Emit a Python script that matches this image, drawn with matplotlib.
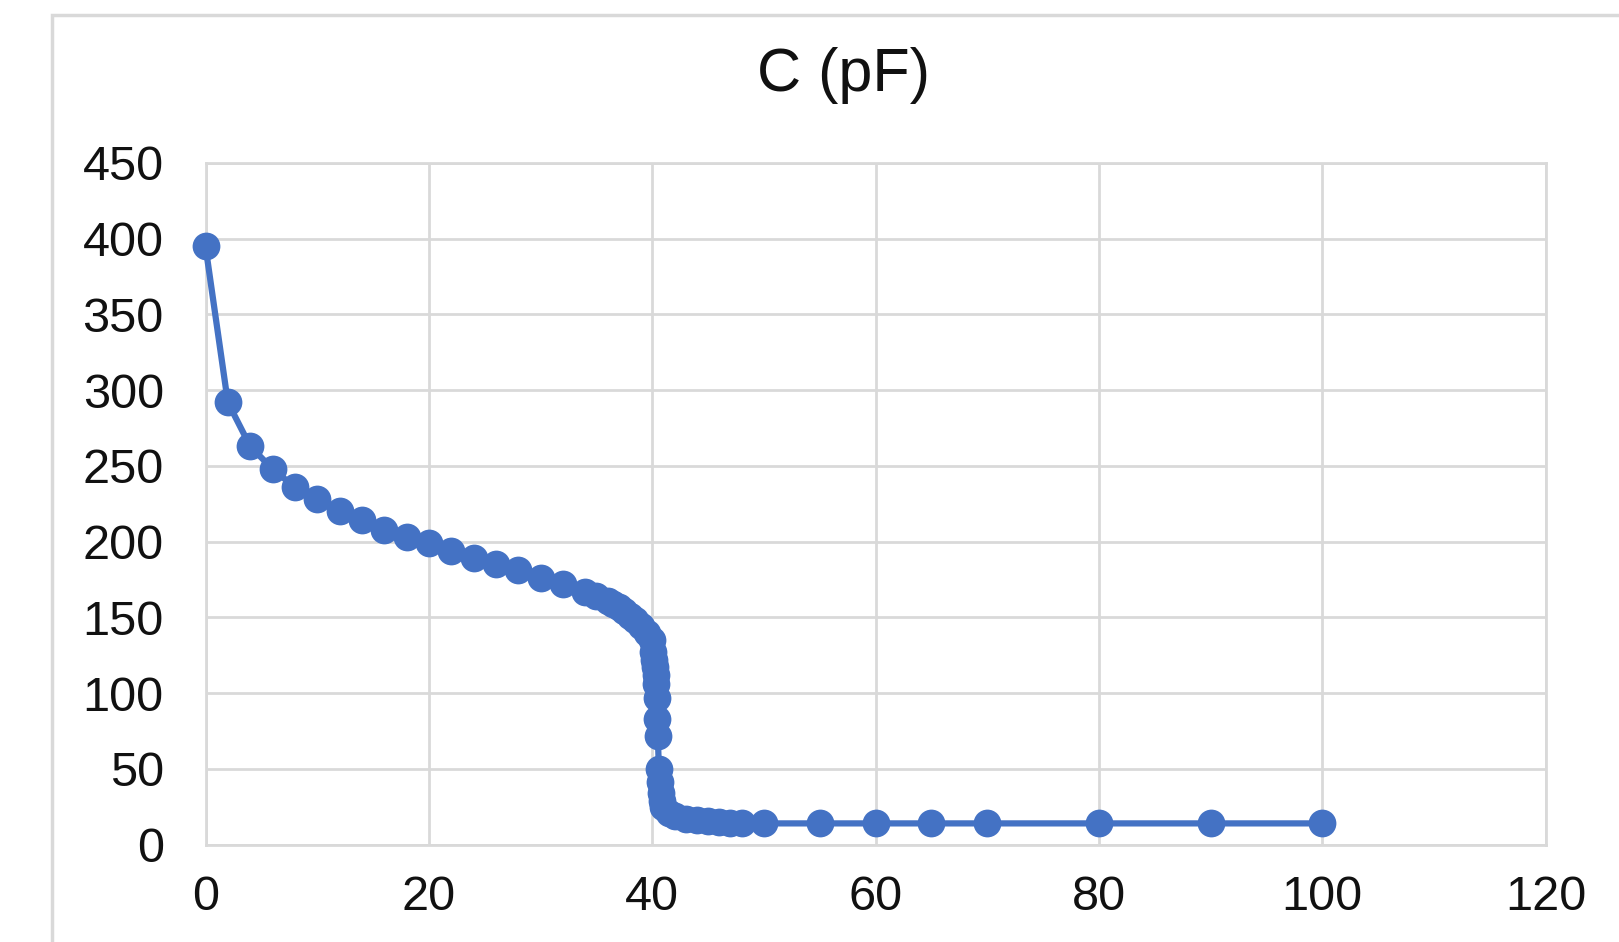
import matplotlib
matplotlib.use("Agg")
import matplotlib.pyplot as plt
from matplotlib.patches import Rectangle

# Capacitance readings
x_vals = [0, 2, 4, 6, 8, 10, 12, 14, 16, 18, 20, 22, 24, 26, 28, 30, 32, 34,
          35, 36, 36.5, 37, 37.5, 38, 38.5, 39, 39.5, 40,
          40.1, 40.2, 40.25, 40.3, 40.35, 40.4, 40.45, 40.5,
          40.6, 40.7, 40.8, 40.9, 41, 41.5, 42, 43,
          44, 45, 46, 47, 48, 50, 55, 60, 65, 70, 80, 90, 100]
c_pf = [395, 292, 263, 248, 236, 228, 220, 214, 208, 203, 199, 194, 189, 185, 181, 176, 172, 167,
        164, 161, 159, 157, 154, 151, 148, 144, 140, 135,
        127, 122, 117, 112, 106, 97, 83, 72,
        50, 41, 34, 29, 25, 21, 19, 17,
        16, 15.5, 15, 14.5, 14.5, 14, 14, 14, 14, 14, 14, 14, 14]

x_ticks = [0, 20, 40, 60, 80, 100, 120]
y_ticks = [0, 50, 100, 150, 200, 250, 300, 350, 400, 450]
title = "C (pF)"

plt.rcParams['font.family'] = ['Liberation Sans', 'DejaVu Sans']

W, H = 1619, 942
fig = plt.figure(figsize=(W / 100, H / 100), dpi=100)
fig.patch.set_facecolor("white")

# Chart frame (runs past the right and bottom edges)
fig.patches.append(Rectangle((52 / W, -0.1), 1.2, 1 - 14.5 / H + 0.1,
                             transform=fig.transFigure, fill=False,
                             edgecolor="#D9D9D9", linewidth=2.5, zorder=0))

ax = fig.add_axes([205.5 / W, 1 - 844.6 / H, (1545.6 - 205.5) / W, (844.6 - 163) / H])
ax.plot(x_vals, c_pf, color="#4472C4", linewidth=4.5, marker="o",
        markersize=20, markeredgewidth=0, solid_joinstyle="round", zorder=3,
        clip_on=False)

ax.set_xlim(0, 120)
ax.set_ylim(0, 450)
ax.set_xticks(x_ticks)
ax.set_yticks(y_ticks)
ax.grid(True, color="#D9D9D9", linewidth=2)
ax.set_axisbelow(True)
for s in ax.spines.values():
    s.set_color("#D9D9D9")
    s.set_linewidth(2)
ax.tick_params(length=0, labelsize=35, colors="#111111")
ax.tick_params(axis="y", pad=30)
ax.tick_params(axis="x", pad=22)

fig.text(843 / W, 1 - 75 / H, title, ha="center", va="center", fontsize=44, color="#111111")

fig.savefig("out.png", dpi=100)
